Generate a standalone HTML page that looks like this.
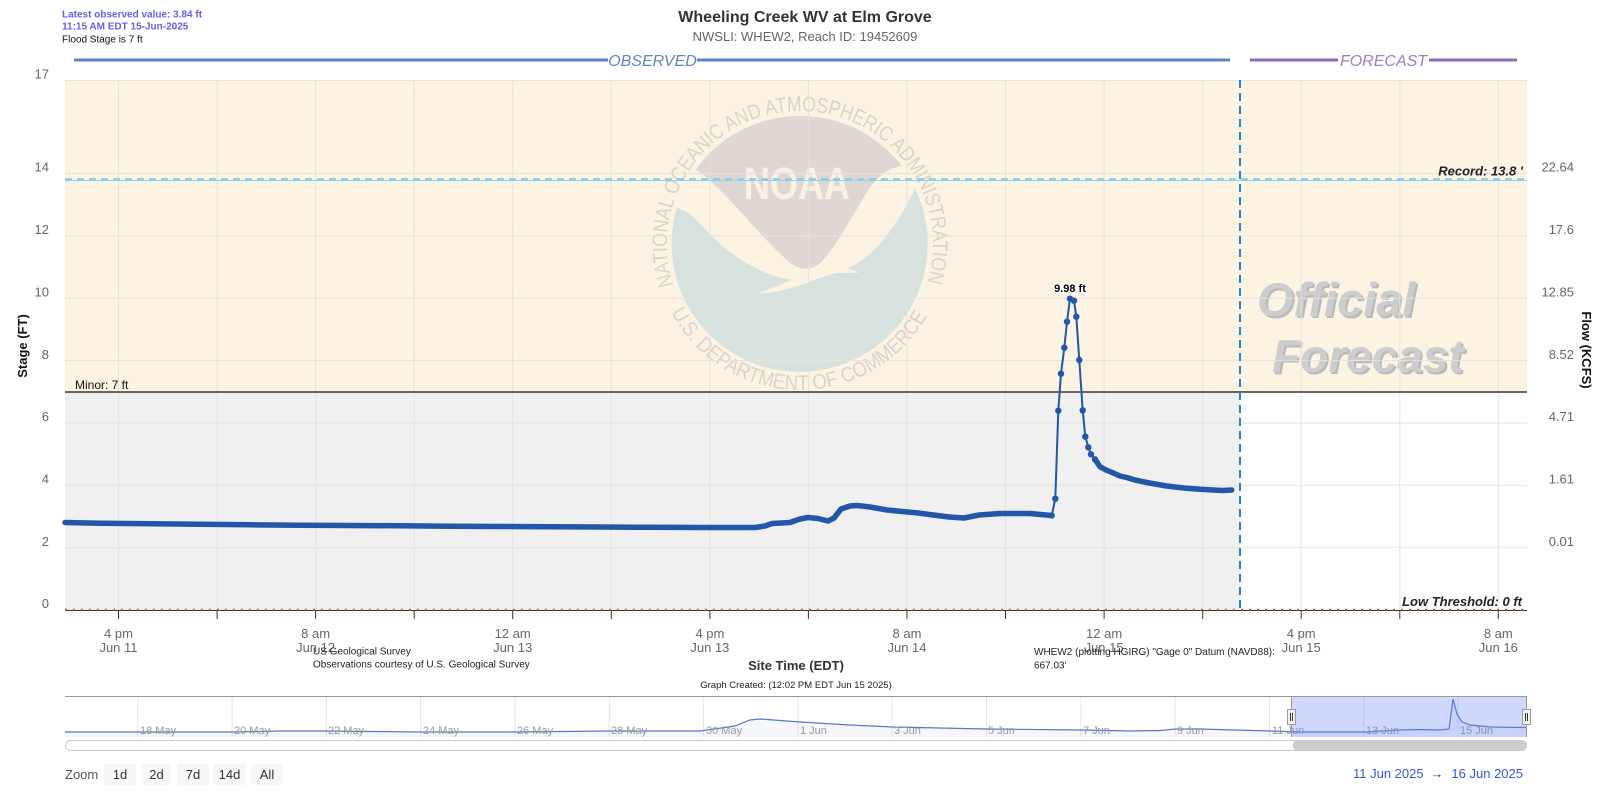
<!DOCTYPE html>
<html><head><meta charset="utf-8"><style>
html,body{margin:0;padding:0;background:#fff;width:1600px;height:800px;overflow:hidden}
svg{display:block;font-family:"Liberation Sans",Arial,sans-serif}
</style></head><body>
<svg width="1600" height="800" viewBox="0 0 1600 800" xmlns="http://www.w3.org/2000/svg">
<rect width="1600" height="800" fill="#fff"/>
<!-- header notes -->
<text x="62" y="17.5" font-size="10" font-weight="bold" fill="#6060f0">Latest observed value: 3.84 ft</text>
<text x="62" y="29.5" font-size="10" font-weight="bold" fill="#6060f0">11:15 AM EDT 15-Jun-2025</text>
<text x="62" y="42.5" font-size="10" fill="#111">Flood Stage is 7 ft</text>
<text x="805" y="22" font-size="16" font-weight="bold" fill="#333" text-anchor="middle">Wheeling Creek WV at Elm Grove</text>
<text x="805" y="41" font-size="13" fill="#666" text-anchor="middle">NWSLI: WHEW2, Reach ID: 19452609</text>
<!-- observed / forecast header lines -->
<line x1="74" y1="60" x2="608" y2="60" stroke="#5b86c5" stroke-width="3"/>
<line x1="697" y1="60" x2="1230" y2="60" stroke="#5b86c5" stroke-width="3"/>
<text x="652.5" y="66" font-size="16" font-style="italic" fill="#5b86c5" text-anchor="middle">OBSERVED</text>
<line x1="1250" y1="60" x2="1338" y2="60" stroke="#9467bd" stroke-width="3"/>
<line x1="1429" y1="60" x2="1517" y2="60" stroke="#9467bd" stroke-width="3"/>
<text x="1383.5" y="66" font-size="16" font-style="italic" fill="#9b7dc8" text-anchor="middle">FORECAST</text>

<!-- plot bands -->
<rect x="65" y="80" width="1462" height="312" fill="#fdf3e3"/>
<rect x="65" y="392" width="1175" height="218" fill="#f0f0f0"/>

<!-- watermark -->
<g transform="translate(620,80) scale(0.333333)">
<path d="M228,268 A384,384 0 0,1 845,258 C810,262 775,285 745,330 C700,400 650,500 600,550 C575,570 545,572 515,552 C450,500 380,410 300,330 C270,300 245,280 228,268 Z" fill="#dfd8d2"/>
<path d="M170,385 A384,384 0 1,0 885,325 C830,440 760,540 660,575 C600,595 560,605 520,600 C400,585 300,500 240,430 C210,400 190,385 170,385 Z" fill="#d7e2de"/>
<path d="M415,640 C480,640 560,610 620,585 C660,575 700,580 715,578 C705,566 660,563 620,566 C560,575 500,610 415,640 Z" fill="#fdf3e3"/>
</g>
<text x="797" y="199" font-size="45" font-weight="bold" fill="#fbf1e3" text-anchor="middle" textLength="106" lengthAdjust="spacingAndGlyphs">NOAA</text>
<defs>
<path id="arcTop" d="M673.5,285.1 A133,133 0 1,1 926.5,285.1"/>
<path id="arcBot" d="M671.1,312.5 A146,146 0 0,0 928.9,312.5"/>
</defs>
<text font-size="21" fill="#dad3cc"><textPath href="#arcTop" textLength="498" lengthAdjust="spacingAndGlyphs">NATIONAL OCEANIC AND ATMOSPHERIC ADMINISTRATION</textPath></text>
<text font-size="21" fill="#dad3cc"><textPath href="#arcBot" textLength="312" lengthAdjust="spacingAndGlyphs">U.S. DEPARTMENT OF COMMERCE</textPath></text>
<rect x="65" y="392" width="1175" height="20" fill="#f0f0f0"/>

<!-- Official Forecast -->
<text x="1259" y="318" font-size="47" font-weight="bold" font-style="italic" fill="#b9b9b9">Official</text>
<text x="1257" y="316" font-size="47" font-weight="bold" font-style="italic" fill="#cdcdcd">Official</text>
<text x="1274" y="374" font-size="46" font-weight="bold" font-style="italic" fill="#b9b9b9">Forecast</text>
<text x="1272" y="372" font-size="46" font-weight="bold" font-style="italic" fill="#cdcdcd">Forecast</text>

<!-- gridlines -->
<g stroke="#e3e3e3" stroke-width="1">
<line x1="65" y1="80.5" x2="1527" y2="80.5"/>
<line x1="65" y1="173.5" x2="1527" y2="173.5"/>
<line x1="65" y1="235.8" x2="1527" y2="235.8"/>
<line x1="65" y1="298.2" x2="1527" y2="298.2"/>
<line x1="65" y1="360.6" x2="1527" y2="360.6"/>
<line x1="65" y1="423" x2="1527" y2="423"/>
<line x1="65" y1="485.3" x2="1527" y2="485.3"/>
<line x1="65" y1="547.6" x2="1527" y2="547.6"/>
</g>
<g stroke="#e4e1dc" stroke-width="1" opacity="0.9">
<line x1="118.5" y1="80" x2="118.5" y2="610"/>
<line x1="217.1" y1="80" x2="217.1" y2="610"/>
<line x1="315.6" y1="80" x2="315.6" y2="610"/>
<line x1="414.2" y1="80" x2="414.2" y2="610"/>
<line x1="512.7" y1="80" x2="512.7" y2="610"/>
<line x1="611.3" y1="80" x2="611.3" y2="610"/>
<line x1="709.9" y1="80" x2="709.9" y2="610"/>
<line x1="808.4" y1="80" x2="808.4" y2="610"/>
<line x1="907" y1="80" x2="907" y2="610"/>
<line x1="1005.5" y1="80" x2="1005.5" y2="610"/>
<line x1="1104.1" y1="80" x2="1104.1" y2="610"/>
<line x1="1202.7" y1="80" x2="1202.7" y2="610"/>
<line x1="1301.2" y1="80" x2="1301.2" y2="610"/>
<line x1="1399.8" y1="80" x2="1399.8" y2="610"/>
<line x1="1498.3" y1="80" x2="1498.3" y2="610"/>
</g>

<!-- record line -->
<line x1="65" y1="180.5" x2="1527" y2="180.5" stroke="#8fd3f0" stroke-width="1"/>
<line x1="65" y1="179.3" x2="1527" y2="179.3" stroke="#7fcdf0" stroke-width="2" stroke-dasharray="7,5"/>
<text x="1523" y="175.5" font-size="13" font-weight="bold" font-style="italic" fill="#222" text-anchor="end">Record: 13.8 '</text>

<!-- minor line -->
<line x1="65" y1="392" x2="1527" y2="392" stroke="#111" stroke-width="1.2"/>
<text x="75" y="389" font-size="12" fill="#111">Minor: 7 ft</text>

<!-- axis line + low threshold -->
<line x1="65" y1="610.5" x2="1527" y2="610.5" stroke="#333" stroke-width="1"/>
<line x1="65" y1="609.8" x2="1527" y2="609.8" stroke="#b5661e" stroke-width="2" stroke-dasharray="2,6"/>
<text x="1522" y="606" font-size="13" font-weight="bold" font-style="italic" fill="#222" text-anchor="end">Low Threshold: 0 ft</text>

<!-- forecast divider -->
<line x1="1240" y1="80" x2="1240" y2="610" stroke="#1f86c8" stroke-width="2" stroke-dasharray="8,5"/>

<!-- ticks -->
<g stroke="#333" stroke-width="1">
<line x1="118.5" y1="610" x2="118.5" y2="619"/>
<line x1="217.1" y1="610" x2="217.1" y2="619"/>
<line x1="315.6" y1="610" x2="315.6" y2="619"/>
<line x1="414.2" y1="610" x2="414.2" y2="619"/>
<line x1="512.7" y1="610" x2="512.7" y2="619"/>
<line x1="611.3" y1="610" x2="611.3" y2="619"/>
<line x1="709.9" y1="610" x2="709.9" y2="619"/>
<line x1="808.4" y1="610" x2="808.4" y2="619"/>
<line x1="907" y1="610" x2="907" y2="619"/>
<line x1="1005.5" y1="610" x2="1005.5" y2="619"/>
<line x1="1104.1" y1="610" x2="1104.1" y2="619"/>
<line x1="1202.7" y1="610" x2="1202.7" y2="619"/>
<line x1="1301.2" y1="610" x2="1301.2" y2="619"/>
<line x1="1399.8" y1="610" x2="1399.8" y2="619"/>
<line x1="1498.3" y1="610" x2="1498.3" y2="619"/>
</g>

<!-- series -->
<polyline fill="none" stroke="#2256a8" stroke-width="5.5" stroke-linejoin="round" stroke-linecap="round" points="65,522.5 100,523.2 150,523.8 200,524.3 250,524.8 300,525.2 350,525.5 400,525.8 450,526.2 500,526.5 550,526.8 600,527 650,527.3 700,527.5 755,527.5 765,526 772,523.5 790,522.5 800,519 808,517.5 818,518.5 828,521 834,518 841,509 850,506 857,505.5 870,507 887,510 918,513 949,517 964,518 979,515 1000,513.5 1030,513.5 1051.7,515.5"/>
<polyline fill="none" stroke="#2256a8" stroke-width="2" stroke-linejoin="round" points="1051.7,515.5 1055.3,498.7 1058.3,410.7 1061,373.7 1064.3,347.7 1067,321.7 1070,298.7 1074,300.7 1076.3,316.7 1079.3,360 1082.7,410.3 1085.3,436.7 1088.3,447.3 1091,454.3 1095,459.3 1100,466.7"/>
<polyline fill="none" stroke="#2256a8" stroke-width="5.5" stroke-linejoin="round" stroke-linecap="round" points="1095,459.3 1100,466.7 1106,470 1113.3,473 1120,476 1126.7,477.5 1135,480 1146.7,482.5 1155,484 1166.7,486 1175,487 1186.7,488.3 1200,489.3 1213.3,490 1222,490.5 1231.7,490"/>
<g fill="#2256a8">
<circle cx="1051.7" cy="515.5" r="3.2"/><circle cx="1055.3" cy="498.7" r="3.2"/><circle cx="1058.3" cy="410.7" r="3.2"/>
<circle cx="1061" cy="373.7" r="3.2"/><circle cx="1064.3" cy="347.7" r="3.2"/><circle cx="1067" cy="321.7" r="3.2"/>
<circle cx="1070" cy="298.7" r="3.2"/><circle cx="1074" cy="300.7" r="3.2"/><circle cx="1076.3" cy="316.7" r="3.2"/>
<circle cx="1079.3" cy="360" r="3.2"/><circle cx="1082.7" cy="410.3" r="3.2"/><circle cx="1085.3" cy="436.7" r="3.2"/>
<circle cx="1088.3" cy="447.3" r="3.2"/><circle cx="1091" cy="454.3" r="3.2"/><circle cx="1095" cy="459.3" r="3.2"/>
</g>
<text x="1070" y="292" font-size="11" font-weight="bold" fill="#000" text-anchor="middle" stroke="#fff" stroke-width="3" paint-order="stroke">9.98 ft</text>

<!-- y axis labels -->
<g font-size="13" fill="#666" text-anchor="end">
<text x="49" y="78.5">17</text>
<text x="49" y="171.7">14</text>
<text x="49" y="234">12</text>
<text x="49" y="296.4">10</text>
<text x="49" y="358.8">8</text>
<text x="49" y="421.2">6</text>
<text x="49" y="483.5">4</text>
<text x="49" y="545.8">2</text>
<text x="49" y="608">0</text>
</g>
<g font-size="13" fill="#666" text-anchor="end">
<text x="1574" y="171.7">22.64</text>
<text x="1574" y="234">17.6</text>
<text x="1574" y="296.4">12.85</text>
<text x="1574" y="358.8">8.52</text>
<text x="1574" y="421.2">4.71</text>
<text x="1574" y="483.5">1.61</text>
<text x="1574" y="545.8">0.01</text>
</g>
<text transform="translate(27,346) rotate(-90)" font-size="13" font-weight="bold" fill="#111" text-anchor="middle">Stage (FT)</text>
<text transform="translate(1582,350) rotate(90)" font-size="13" font-weight="bold" fill="#111" text-anchor="middle">Flow (KCFS)</text>

<!-- x axis labels -->
<g font-size="13" fill="#666" text-anchor="middle">
<text x="118.5" y="638">4 pm</text><text x="118.5" y="652">Jun 11</text>
<text x="315.6" y="638">8 am</text><text x="315.6" y="652">Jun 12</text>
<text x="512.7" y="638">12 am</text><text x="512.7" y="652">Jun 13</text>
<text x="709.9" y="638">4 pm</text><text x="709.9" y="652">Jun 13</text>
<text x="907" y="638">8 am</text><text x="907" y="652">Jun 14</text>
<text x="1104.1" y="638">12 am</text><text x="1104.1" y="652">Jun 15</text>
<text x="1301.2" y="638">4 pm</text><text x="1301.2" y="652">Jun 15</text>
<text x="1498.3" y="638">8 am</text><text x="1498.3" y="652">Jun 16</text>
</g>
<g font-size="10" fill="#222">
<text x="313" y="654.5">US Geological Survey</text>
<text x="313" y="667.5">Observations courtesy of U.S. Geological Survey</text>
<text x="1034" y="655">WHEW2 (plotting HGIRG) "Gage 0" Datum (NAVD88):</text>
<text x="1034" y="668.5">667.03'</text>
</g>
<text x="796" y="670" font-size="13" font-weight="bold" fill="#333" text-anchor="middle">Site Time (EDT)</text>
<text x="796" y="688" font-size="9.5" fill="#222" text-anchor="middle">Graph Created: (12:02 PM EDT Jun 15 2025)</text>

<!-- navigator -->
<g stroke="#e6e6e6" stroke-width="1">
<line x1="137.8" y1="696" x2="137.8" y2="737"/><line x1="232.1" y1="696" x2="232.1" y2="737"/>
<line x1="326.4" y1="696" x2="326.4" y2="737"/><line x1="420.7" y1="696" x2="420.7" y2="737"/>
<line x1="515" y1="696" x2="515" y2="737"/><line x1="609.3" y1="696" x2="609.3" y2="737"/>
<line x1="703.6" y1="696" x2="703.6" y2="737"/><line x1="797.9" y1="696" x2="797.9" y2="737"/>
<line x1="892.2" y1="696" x2="892.2" y2="737"/><line x1="986.5" y1="696" x2="986.5" y2="737"/>
<line x1="1080.8" y1="696" x2="1080.8" y2="737"/><line x1="1175.1" y1="696" x2="1175.1" y2="737"/>
<line x1="1269.4" y1="696" x2="1269.4" y2="737"/><line x1="1363.7" y1="696" x2="1363.7" y2="737"/>
<line x1="1458" y1="696" x2="1458" y2="737"/>
</g>
<polygon fill="#4f7cc7" fill-opacity="0.06" points="65,737 65,732 137,732 232,732 280,731 326,731 421,732 515,732 610,731 700,731 735,726 750,720 760,719 800,722 850,725 893,727 987,729 1081,730 1130,731 1160,730.5 1176,729 1200,729 1270,731 1300,732 1364,732 1400,730 1418,729.5 1440,730 1449,729 1453,699 1457,714 1462,722 1470,725 1490,727 1527,727.5 1527,737"/>
<polyline fill="none" stroke="#4f7cc7" stroke-width="1.2" points="65,732 137,732 232,732 280,731 326,731 421,732 515,732 610,731 700,731 735,726 750,720 760,719 800,722 850,725 893,727 987,729 1081,730 1130,731 1160,730.5 1176,729 1200,729 1270,731 1300,732 1364,732 1400,730 1418,729.5 1440,730 1449,729 1453,699 1457,714 1462,722 1470,725 1490,727 1527,727.5"/>
<g font-size="11" fill="#999">
<text x="140" y="734">18 May</text><text x="234" y="734">20 May</text><text x="328" y="734">22 May</text>
<text x="423" y="734">24 May</text><text x="517" y="734">26 May</text><text x="611" y="734">28 May</text>
<text x="706" y="734">30 May</text><text x="800" y="734">1 Jun</text><text x="894" y="734">3 Jun</text>
<text x="988" y="734">5 Jun</text><text x="1083" y="734">7 Jun</text><text x="1177" y="734">9 Jun</text>
<text x="1272" y="734">11 Jun</text><text x="1366" y="734">13 Jun</text><text x="1460" y="734">15 Jun</text>
</g>
<rect x="1291.5" y="696" width="235" height="41" fill="rgb(100,125,250)" fill-opacity="0.3"/>
<line x1="65" y1="696.5" x2="1527" y2="696.5" stroke="#999" stroke-width="1"/>
<line x1="1291.5" y1="696" x2="1291.5" y2="737" stroke="#999" stroke-width="1"/>
<line x1="1526.5" y1="696" x2="1526.5" y2="737" stroke="#999" stroke-width="1"/>
<rect x="1287.5" y="709.5" width="8" height="15" fill="#f2f2f2" stroke="#999"/>
<line x1="1290.5" y1="713" x2="1290.5" y2="721" stroke="#333"/><line x1="1292.5" y1="713" x2="1292.5" y2="721" stroke="#333"/>
<rect x="1522.5" y="709.5" width="8" height="15" fill="#f2f2f2" stroke="#999"/>
<line x1="1525.5" y1="713" x2="1525.5" y2="721" stroke="#333"/><line x1="1527.5" y1="713" x2="1527.5" y2="721" stroke="#333"/>
<!-- scrollbar -->
<rect x="65.5" y="740.5" width="1461" height="10" rx="5" fill="#fff" stroke="#ccc"/>
<rect x="1293" y="740" width="234" height="11" rx="5.5" fill="#ccc"/>

<!-- range selector -->
<text x="65" y="779" font-size="13" fill="#555">Zoom</text>
<g fill="#f7f7f7">
<rect x="104" y="764" width="32" height="21" rx="2"/>
<rect x="142" y="764" width="29" height="21" rx="2"/>
<rect x="177" y="764" width="32" height="21" rx="2"/>
<rect x="213" y="764" width="33" height="21" rx="2"/>
<rect x="251" y="764" width="32" height="21" rx="2"/>
</g>
<g font-size="13" fill="#333" text-anchor="middle">
<text x="120" y="779">1d</text><text x="156.5" y="779">2d</text><text x="193" y="779">7d</text>
<text x="229.5" y="779">14d</text><text x="267" y="779">All</text>
</g>
<text x="1353" y="778" font-size="13" fill="#3358e0">11 Jun 2025</text>
<text x="1437" y="778" font-size="13" fill="#444" text-anchor="middle">→</text>
<text x="1523" y="778" font-size="13" fill="#3358e0" text-anchor="end">16 Jun 2025</text>
</svg>
</body></html>
